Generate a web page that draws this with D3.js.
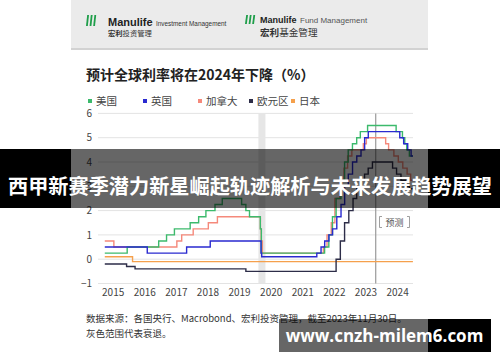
<!DOCTYPE html>
<html>
<head>
<meta charset="utf-8">
<script src="https://cdn.jsdelivr.net/npm/d3@7"></script>
<style>
body { margin: 0; background: #fff; }
svg { display: block; }
</style>
</head>
<body>
<div id="chart"></div>
<script>
// series names + colours, legend order
const legendNames = ['美国', '英国', '加拿大', '欧元区', '日本']
const lineColors = ['#3cba6c', '#2a2ad0', '#f5897b', '#2d2d48', '#f5a04c']

// policy rates, as change dates + new level (step after)
const usDates = ['2015-04-01', '2015-12-16', '2016-12-14', '2017-03-15', '2017-06-14', '2017-12-13', '2018-03-21', '2018-06-13', '2018-09-26', '2018-12-19', '2019-07-31', '2019-09-18', '2019-10-30', '2020-03-03', '2020-03-15', '2022-03-16', '2022-05-04', '2022-06-15', '2022-07-27', '2022-09-21', '2022-11-02', '2022-12-14', '2023-02-01', '2023-03-22', '2023-05-03', '2023-07-26', '2024-06-20', '2024-09-01', '2024-09-28', '2024-10-20', '2024-11-20']
const usRates = [0.25, 0.5, 0.75, 1.0, 1.25, 1.5, 1.75, 2.0, 2.25, 2.5, 2.25, 2.0, 1.75, 1.25, 0.25, 0.5, 1.0, 1.75, 2.5, 3.25, 4.0, 4.5, 4.75, 5.0, 5.25, 5.5, 5.25, 5.0, 4.75, 4.5, 4.25]

const ukDates = ['2015-04-01', '2016-08-04', '2017-11-02', '2018-08-02', '2020-03-11', '2020-03-19', '2021-12-16', '2022-02-03', '2022-03-17', '2022-05-05', '2022-06-16', '2022-08-04', '2022-09-22', '2022-11-03', '2022-12-15', '2023-02-02', '2023-03-23', '2023-05-11', '2023-06-22', '2023-08-03', '2024-08-01', '2024-09-15', '2024-11-01', '2024-12-10']
const ukRates = [0.5, 0.25, 0.5, 0.75, 0.25, 0.1, 0.25, 0.5, 0.75, 1.0, 1.25, 1.75, 2.25, 3.0, 3.5, 4.0, 4.25, 4.5, 5.0, 5.25, 5.0, 4.75, 4.5, 4.25]

const caDates = ['2015-04-01', '2015-07-15', '2017-07-12', '2017-09-06', '2018-01-17', '2018-07-11', '2018-10-24', '2020-03-04', '2020-03-13', '2020-03-27', '2022-03-02', '2022-04-13', '2022-06-01', '2022-07-13', '2022-09-07', '2022-10-26', '2022-12-07', '2023-01-25', '2023-06-07', '2023-07-12', '2024-02-20', '2024-03-25', '2024-05-25', '2024-07-15', '2024-09-05', '2024-10-25', '2024-12-05']
const caRates = [0.75, 0.5, 0.75, 1.0, 1.25, 1.5, 1.75, 1.25, 0.75, 0.25, 0.5, 1.0, 1.5, 2.5, 3.25, 3.75, 4.25, 4.5, 4.75, 5.0, 4.75, 4.5, 4.25, 4.0, 3.75, 3.5, 3.25]

const euDates = ['2015-04-01', '2015-12-09', '2016-03-16', '2019-09-18', '2022-07-27', '2022-09-14', '2022-11-02', '2022-12-21', '2023-02-08', '2023-03-22', '2023-05-10', '2023-06-21', '2023-08-02', '2023-09-20', '2024-05-10', '2024-06-25', '2024-08-15', '2024-10-05', '2024-11-20']
const euRates = [-0.2, -0.3, -0.4, -0.5, 0.0, 0.75, 1.5, 2.0, 2.5, 3.0, 3.25, 3.5, 3.75, 4.0, 3.75, 3.5, 3.25, 3.0, 2.9]

const jpDates = ['2015-04-01', '2016-02-16']
const jpRates = [0.1, -0.1]

const seriesEnd = '2024-12-31'
const yTicks = [-1, 0, 1, 2, 3, 4, 5, 6]
const yearLabels = [2015, 2016, 2017, 2018, 2019, 2020, 2021, 2022, 2023, 2024]
const recession = ['2020-02-10', '2020-05-01']
const forecastDate = '2023-10-28'

const W = 500, H = 362
const cardX0 = 71, cardX1 = 428
const cjk = '"Noto Sans CJK SC", "Noto Sans", sans-serif'

const parse = d3.utcParse('%Y-%m-%d')

const svg = d3.select('#chart').append('svg').attr('width', W).attr('height', H)
svg.append('rect').attr('width', W).attr('height', H).attr('fill', '#fff')

// ---- header bar with logos
svg.append('rect').attr('x', cardX0).attr('y', 0).attr('width', cardX1 - cardX0).attr('height', 48).attr('fill', '#ebebeb')
svg.append('rect').attr('x', cardX0).attr('y', 48).attr('width', cardX1 - cardX0).attr('height', 2).attr('fill', '#d2d2d2')

const drawBars = (x, y, h) => {
    for (let i = 0; i < 3; i++) {
        svg.append('path')
        .attr('d', `M${x + i * 3.6},${y + h} l1.2,${-h} l1.8,0 l-1.2,${h} z`)
        .attr('fill', '#1f9e4a')
    }
}
drawBars(86, 15, 11)
drawBars(245, 15, 9)

svg.append('text').attr('x', 108).attr('y', 25.5).attr('font-family', 'Liberation Sans, Arial, sans-serif')
.attr('font-size', 11).attr('font-weight', 'bold').attr('fill', '#222').text('Manulife')
svg.append('text').attr('x', 156).attr('y', 25.5).attr('font-family', 'Liberation Sans, Arial, sans-serif')
.attr('font-size', 6.4).attr('fill', '#333').text('Investment Management')
const cn1 = svg.append('text').attr('x', 108).attr('y', 35.5).attr('font-family', cjk).attr('font-size', 7.3).attr('fill', '#333')
cn1.append('tspan').attr('font-weight', 'bold').text('宏利')
cn1.append('tspan').text('投资管理')

svg.append('text').attr('x', 260).attr('y', 23).attr('font-family', 'Liberation Sans, Arial, sans-serif')
.attr('font-size', 9).attr('font-weight', 'bold').attr('fill', '#222').text('Manulife')
svg.append('text').attr('x', 300).attr('y', 23).attr('font-family', 'Liberation Sans, Arial, sans-serif')
.attr('font-size', 8).attr('fill', '#555').text('Fund Management')
const cn2 = svg.append('text').attr('x', 260).attr('y', 36).attr('font-family', cjk).attr('font-size', 9.6).attr('fill', '#333')
cn2.append('tspan').attr('font-weight', 'bold').text('宏利')
cn2.append('tspan').text('基金管理')

// ---- title + legend
svg.append('text').attr('x', 86).attr('y', 80).attr('font-family', cjk).attr('font-size', 14)
.attr('font-weight', 'bold').attr('fill', '#222').text('预计全球利率将在2024年下降（%）')

const legendX = [88, 143, 198, 249, 291]
legendNames.forEach((name, i) => {
    svg.append('rect').attr('x', legendX[i]).attr('y', 99).attr('width', 4).attr('height', 4).attr('fill', lineColors[i])
    svg.append('text').attr('x', legendX[i] + 8).attr('y', 105).attr('font-family', cjk).attr('font-size', 10.5)
    .attr('fill', '#444').text(name)
})

// ---- scales
const xScale = d3.scaleUtc().domain([parse('2015-01-01'), parse('2025-01-01')]).range([97, 413])
const yScale = d3.scaleLinear().domain([-1, 6]).range([283.5, 113.4])

svg.append('g').selectAll('line').data(yTicks).enter().append('line')
.attr('x1', 98).attr('x2', 413)
.attr('y1', (d) => yScale(d)).attr('y2', (d) => yScale(d))
.attr('stroke', '#e3e3e3').attr('stroke-width', 1)

svg.append('rect').attr('x', xScale(parse(recession[0]))).attr('y', yScale(6))
.attr('width', xScale(parse(recession[1])) - xScale(parse(recession[0])))
.attr('height', yScale(-1) - yScale(6)).attr('fill', '#e6e6e6')

const yAxis = d3.axisLeft(yScale).tickValues(yTicks).tickFormat(d3.format('d')).tickSize(0).tickPadding(0)
const yG = svg.append('g').attr('transform', 'translate(92,0)').call(yAxis)
yG.select('.domain').remove()
yG.selectAll('text').attr('font-family', cjk).attr('font-size', 10).attr('fill', '#444')

const xAxis = d3.axisBottom(xScale)
.tickValues(yearLabels.map((y) => parse(`${y}-07-01`)))
.tickFormat(d3.utcFormat('%Y')).tickSize(0).tickPadding(0)
const xG = svg.append('g').attr('transform', 'translate(0,289)').call(xAxis)
xG.select('.domain').remove()
xG.selectAll('text').attr('font-family', cjk).attr('font-size', 10).attr('fill', '#444')

// ---- forecast divider
svg.append('line').attr('x1', xScale(parse(forecastDate))).attr('x2', xScale(parse(forecastDate)))
.attr('y1', yScale(6)).attr('y2', yScale(-1)).attr('stroke', '#9a9a9a').attr('stroke-width', 1.2)

svg.append('path').attr('d', 'M382,216.5 h-2.5 v11 h2.5 M407,216.5 h2.5 v11 h-2.5')
.attr('fill', 'none').attr('stroke', '#888').attr('stroke-width', 0.8)
svg.append('text').attr('x', 394.5).attr('y', 225.5).attr('text-anchor', 'middle').attr('font-family', cjk)
.attr('font-size', 9).attr('fill', '#555').text('预测')

// ---- rate lines
const series = [
    { dates: jpDates, rates: jpRates, color: lineColors[4] },
    { dates: euDates, rates: euRates, color: lineColors[3] },
    { dates: caDates, rates: caRates, color: lineColors[2] },
    { dates: usDates, rates: usRates, color: lineColors[0] },
    { dates: ukDates, rates: ukRates, color: lineColors[1] },
]
const line = d3.line().x((d) => xScale(d[0])).y((d) => yScale(d[1])).curve(d3.curveStepAfter)
series.forEach((s) => {
    const pts = s.dates.map((d, i) => [parse(d), s.rates[i]])
    pts.push([parse(seriesEnd), s.rates[s.rates.length - 1]])
    svg.append('path').datum(pts).attr('d', line)
    .attr('fill', 'none').attr('stroke', s.color).attr('stroke-width', 1.4)
})

// ---- source note
svg.append('text').attr('x', 86).attr('y', 322).attr('font-family', cjk).attr('font-size', 9.5)
.attr('fill', '#333').text('数据来源：各国央行、Macrobond、宏利投资管理，截至2023年11月30日。')
svg.append('text').attr('x', 86).attr('y', 337).attr('font-family', cjk).attr('font-size', 9.5)
.attr('fill', '#333').text('灰色范围代表衰退。')

// ---- overlay banner
const band = (y, h, x0, x1) => {
    svg.append('rect').attr('x', x0).attr('y', y).attr('width', cardX0 - x0).attr('height', h).attr('fill', '#000')
    svg.append('rect').attr('x', cardX0).attr('y', y).attr('width', cardX1 - cardX0).attr('height', h).attr('fill', 'rgba(0,0,0,0.6)')
    svg.append('rect').attr('x', cardX1).attr('y', y).attr('width', x1 - cardX1).attr('height', h).attr('fill', '#000')
}
band(149, 59, 0, W)
svg.append('text').attr('x', 8).attr('y', 194).attr('font-family', cjk)
.attr('font-size', 20.5).attr('font-weight', 'bold').attr('fill', '#fff')
.attr('textLength', 484).attr('lengthAdjust', 'spacingAndGlyphs')
.text('西甲新赛季潜力新星崛起轨迹解析与未来发展趋势展望')

// watermark
svg.append('rect').attr('x', 279).attr('y', 319).attr('width', cardX1 - 279).attr('height', 33).attr('fill', 'rgba(0,0,0,0.6)')
svg.append('rect').attr('x', cardX1).attr('y', 319).attr('width', 491 - cardX1).attr('height', 33).attr('fill', '#000')
svg.append('text').attr('x', 384.5).attr('y', 342).attr('text-anchor', 'middle').attr('font-family', '"Open Sans", "DejaVu Sans", sans-serif')
.attr('font-size', 17).attr('font-weight', 'bold').attr('fill', '#fff').text('www.cnzh-milem6.com')
</script>
</body>
</html>
